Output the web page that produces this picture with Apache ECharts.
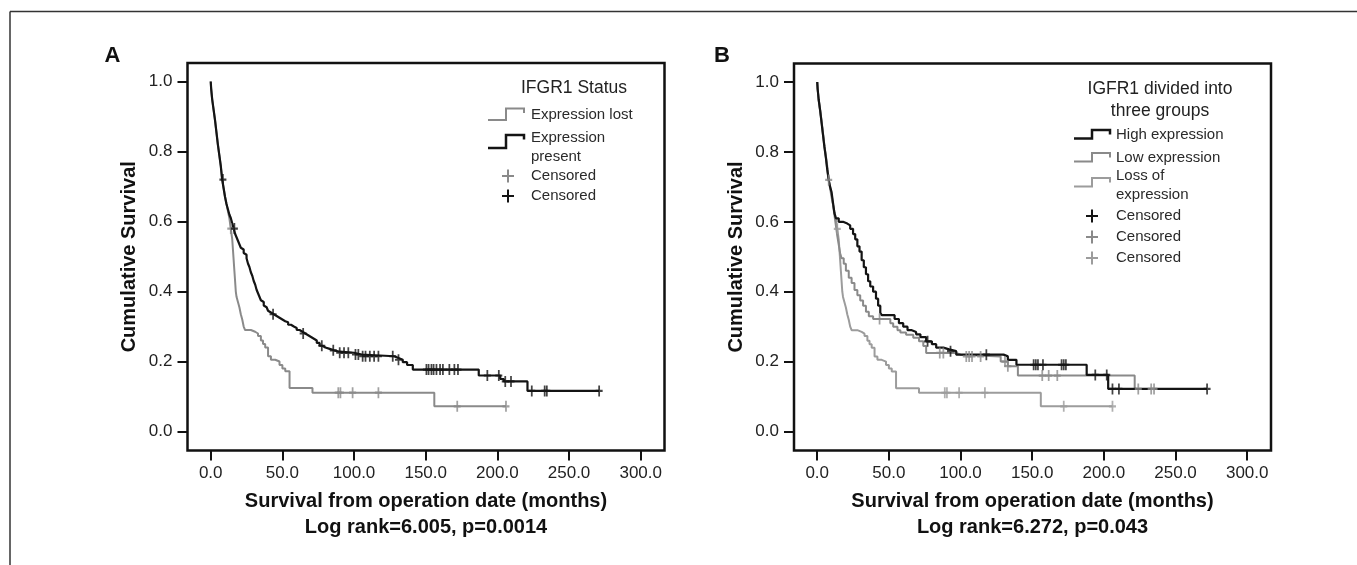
<!DOCTYPE html>
<html><head><meta charset="utf-8">
<script src="https://cdn.jsdelivr.net/npm/echarts@6/dist/echarts.min.js"></script>
<style>html,body{margin:0;padding:0;background:#fff}#c{width:1357px;height:565px}</style>
</head><body><div id="c"></div>
<script>
// ---------- tick values ----------
const xTicks = [0, 50, 100, 150, 200, 250, 300];
const yTicks = [0, 0.2, 0.4, 0.6, 0.8, 1.0];

// ---------- Panel A : IFGR1 Status ----------
// [months, cumulative survival] step points (value after the drop)
const presentCurve = [[0,1.0],[0.3,0.98],[1,0.95],[2,0.92],[3,0.89],[4,0.855],[5,0.82],[6,0.79],[7,0.76],[8,0.72],[9,0.695],[10,0.67],[11,0.65],[12,0.635],[13,0.62],[14,0.61],[15,0.595],[16,0.58],[17,0.565],[18,0.555],[19,0.545],[20,0.535],[21,0.525],[22,0.52],[23,0.51],[24,0.505],[25,0.495],[26,0.48],[27,0.47],[28,0.455],[29,0.445],[30,0.43],[31,0.42],[32,0.405],[33,0.395],[34,0.385],[35,0.375],[36,0.37],[37,0.36],[38,0.355],[39,0.35],[40,0.345],[41,0.34],[42,0.335],[44,0.33],[46,0.325],[48,0.32],[50,0.315],[52,0.312],[54,0.305],[56,0.3],[58,0.296],[60,0.29],[62,0.285],[64,0.28],[66,0.275],[68,0.27],[70,0.265],[72,0.26],[74,0.253],[76,0.245],[78,0.24],[80,0.236],[83,0.232],[86,0.228],[90,0.225],[100,0.22],[105,0.215],[128,0.21],[131,0.205],[134,0.198],[137,0.19],[141,0.177],[187,0.16],[202,0.15],[204.5,0.143],[221,0.116],[271,0.116]];
const presentCensor = [8.5,16.5,43.5,64.5,77.5,85.5,90,93,96,101,103,106,108,111,114,117,127,131,150.5,152,154,155.5,157.5,160,162,166.5,170,172.5,193,201,205.5,209.5,224,233,234.5,271];

// Expression lost (the same curve is "Loss of expression" in panel B)
const lostCurve = [[0,1.0],[0.3,0.98],[1,0.95],[2,0.92],[3,0.89],[4,0.855],[5,0.82],[6,0.79],[7,0.76],[8,0.72],[9,0.695],[10,0.67],[11,0.65],[12,0.63],[13,0.61],[14,0.58],[15,0.55],[15.5,0.52],[16,0.49],[16.5,0.46],[17,0.43],[17.5,0.40],[18,0.385],[19,0.37],[20,0.355],[21,0.335],[22,0.32],[23,0.30],[24,0.29],[28,0.285],[31,0.28],[33,0.273],[35,0.26],[36.5,0.25],[38,0.24],[40,0.215],[42,0.205],[45,0.2],[48,0.19],[50,0.18],[52,0.172],[55,0.124],[71,0.111],[156,0.072],[206,0.072]];
const lostCensor = [14,89,90.5,99,117,172,206];

// ---------- Panel B : IGFR1 divided into three groups ----------
const highCurve = [[0,1],[0.3,0.98],[1,0.95],[2,0.92],[3,0.885],[4,0.85],[5,0.815],[6,0.785],[7,0.75],[8,0.72],[9,0.70],[10,0.685],[11,0.655],[12,0.625],[13,0.61],[15,0.60],[18,0.595],[21,0.59],[23,0.58],[25,0.565],[26.5,0.55],[28,0.53],[29.5,0.515],[31,0.49],[32.5,0.47],[34,0.45],[35.5,0.43],[37,0.415],[39,0.40],[41,0.38],[42.5,0.36],[44,0.34],[45,0.333],[54,0.322],[57,0.31],[60,0.30],[63,0.29],[66,0.285],[69,0.278],[72,0.27],[76,0.258],[80,0.25],[83,0.24],[88,0.235],[92,0.23],[97,0.22],[130,0.215],[133,0.205],[139,0.191],[188,0.162],[203,0.122],[272,0.122]];
const highCensor = [77,93,118,151,152.5,154,157.5,170.5,172,173.5,194,202,206,210.5,272];

const lowCurve = [[0,1],[0.3,0.98],[1,0.95],[2,0.92],[3,0.885],[4,0.85],[5,0.815],[6,0.785],[7,0.75],[8,0.72],[9,0.70],[10,0.68],[11,0.65],[12,0.62],[13,0.59],[14,0.56],[15,0.535],[16,0.51],[17,0.496],[18.5,0.48],[20,0.46],[22,0.44],[24,0.425],[26,0.405],[28,0.39],[30,0.375],[32,0.36],[34,0.343],[36,0.33],[39,0.322],[51,0.31],[53,0.30],[56,0.29],[58,0.283],[62,0.277],[67,0.268],[71,0.258],[74,0.245],[76,0.225],[97,0.22],[100,0.215],[128,0.2],[133,0.187],[140,0.16],[221.5,0.122],[235,0.122]];
const lowCensor = [8,43.5,85.5,88,104,106,108,114,131,133,157,161.5,167.5,224,233,235];

// ---------- text ----------
const xTitle = 'Survival from operation date (months)';
const yTitle = 'Cumulative Survival';
const statA = 'Log rank=6.005, p=0.0014';
const statB = 'Log rank=6.272, p=0.043';

// ---------- helpers ----------
const FONT = "'Liberation Sans', Arial, Helvetica, sans-serif";
const BLACK = '#141414', GREY = '#8a8a8a', GREY2 = '#9c9c9c';
const PLUS = 'path://M3,0L5,0L5,4L8,4L8,6L5,6L5,10L3,10L3,6L0,6L0,4L3,4Z';
// axis ranges extend past the outer ticks so the frame sits outside them
const X_MIN = -16.2, X_MAX = 316.6, Y_MIN = -0.0543, Y_MAX = 1.053;

function stepAt(curve, t) {
  let v = curve[0][1];
  for (const p of curve) { if (p[0] <= t) v = p[1]; else break; }
  return v;
}
function censorPts(curve, times) { return times.map(t => [t, stepAt(curve, t)]); }

function xAxisFor(idx, stat) {
  return {
    gridIndex: idx, type: 'value', min: X_MIN, max: X_MAX, position: 'bottom',
    axisLine: { show: false, onZero: false },
    axisTick: { show: true, inside: false, length: 10, customValues: xTicks, lineStyle: { color: '#111', width: 2 } },
    splitLine: { show: false },
    axisLabel: { customValues: xTicks, margin: 14, fontSize: 17, color: '#222', fontFamily: FONT, formatter: v => Number(v).toFixed(1) },
    name: xTitle + '\n' + stat, nameLocation: 'middle', nameGap: 38,
    nameTextStyle: { fontSize: 20, fontWeight: 'bold', color: '#111', fontFamily: FONT, lineHeight: 26 }
  };
}
function yAxisFor(idx) {
  return {
    gridIndex: idx, type: 'value', min: Y_MIN, max: Y_MAX, position: 'left',
    axisLine: { show: false, onZero: false },
    axisTick: { show: true, inside: false, length: 10, customValues: yTicks, lineStyle: { color: '#111', width: 2 } },
    splitLine: { show: false },
    axisLabel: { customValues: yTicks, margin: 15, fontSize: 17, color: '#222', fontFamily: FONT, formatter: v => Number(v).toFixed(1) },
    name: yTitle, nameLocation: 'middle', nameGap: 48, nameRotate: 90,
    nameTextStyle: { fontSize: 20, fontWeight: 'bold', color: '#111', fontFamily: FONT }
  };
}
function kmLine(name, curve, color, width, ax) {
  return { name, type: 'line', step: 'end', data: curve, xAxisIndex: ax, yAxisIndex: ax,
    showSymbol: false, symbol: 'none', lineStyle: { color, width }, itemStyle: { color }, z: 3, silent: true };
}
function censor(name, curve, times, color, ax) {
  return { name, type: 'scatter', data: censorPts(curve, times), xAxisIndex: ax, yAxisIndex: ax,
    symbol: PLUS, symbolSize: [7, 11], itemStyle: { color }, z: 4, silent: true };
}

// legend drawing helpers (graphic)
function stepIcon(x0, yLow, yTop, color, w) {
  return { type: 'polyline', silent: true,
    shape: { points: [[x0, yLow], [x0 + 18, yLow], [x0 + 18, yTop], [x0 + 36, yTop], [x0 + 36, yTop + 4.5]] },
    style: { stroke: color, lineWidth: w, fill: null } };
}
function plusIcon(cx, cy, color) {
  return { type: 'group', silent: true, children: [
    { type: 'line', shape: { x1: cx - 6, y1: cy, x2: cx + 6, y2: cy }, style: { stroke: color, lineWidth: 2 } },
    { type: 'line', shape: { x1: cx, y1: cy - 6.5, x2: cx, y2: cy + 6.5 }, style: { stroke: color, lineWidth: 2 } }
  ] };
}
function legText(x, y, str, top) {
  return { type: 'text', x, y, silent: true,
    style: { text: str, font: '15px ' + FONT, fill: '#2a2a2a', verticalAlign: top ? 'top' : 'middle', lineHeight: 19 } };
}

const option = {
  animation: false,
  backgroundColor: '#fff',
  grid: [
    { left: 187.5, top: 63, width: 477, height: 387.5, show: true, borderColor: '#111', borderWidth: 2.5, backgroundColor: 'transparent' },
    { left: 794, top: 63.5, width: 477, height: 387, show: true, borderColor: '#111', borderWidth: 2.5, backgroundColor: 'transparent' }
  ],
  xAxis: [xAxisFor(0, statA), xAxisFor(1, statB)],
  yAxis: [yAxisFor(0), yAxisFor(1)],
  series: [
    kmLine('Expression lost', lostCurve, GREY, 2, 0),
    kmLine('Expression present', presentCurve, BLACK, 2.2, 0),
    censor('Censored (lost)', lostCurve, lostCensor, GREY, 0),
    censor('Censored (present)', presentCurve, presentCensor, BLACK, 0),
    kmLine('Loss of expression', lostCurve, GREY2, 2, 1),
    kmLine('Low expression', lowCurve, GREY, 2, 1),
    kmLine('High expression', highCurve, BLACK, 2.2, 1),
    censor('Censored (loss)', lostCurve, lostCensor, GREY2, 1),
    censor('Censored (low)', lowCurve, lowCensor, GREY, 1),
    censor('Censored (high)', highCurve, highCensor, BLACK, 1)
  ],
  graphic: [
    { type: 'line', silent: true, shape: { x1: 10, y1: 11.5, x2: 1357, y2: 11.5 }, style: { stroke: '#333', lineWidth: 1.5 } },
    { type: 'line', silent: true, shape: { x1: 10, y1: 11.5, x2: 10, y2: 565 }, style: { stroke: '#333', lineWidth: 1.5 } },
    { type: 'text', x: 112.5, y: 56, silent: true, style: { text: 'A', font: 'bold 22px ' + FONT, fill: '#111', align: 'center', verticalAlign: 'middle' } },
    { type: 'text', x: 722, y: 56, silent: true, style: { text: 'B', font: 'bold 22px ' + FONT, fill: '#111', align: 'center', verticalAlign: 'middle' } },
    // legend A
    { type: 'text', x: 574, y: 88, silent: true, style: { text: 'IFGR1 Status', font: '17.5px ' + FONT, fill: '#222', align: 'center', verticalAlign: 'middle' } },
    stepIcon(488, 120, 108.5, GREY, 2),
    legText(531, 115, 'Expression lost'),
    stepIcon(488, 148, 135, BLACK, 2.5),
    legText(531, 128.5, 'Expression\npresent', true),
    plusIcon(508, 176, GREY),
    legText(531, 176, 'Censored'),
    plusIcon(508, 196, BLACK),
    legText(531, 196, 'Censored'),
    // legend B
    { type: 'text', x: 1160, y: 78, silent: true, style: { text: 'IGFR1 divided into\nthree groups', font: '17.5px ' + FONT, fill: '#222', align: 'center', verticalAlign: 'top', lineHeight: 22 } },
    stepIcon(1074, 138.5, 130, BLACK, 2.5),
    legText(1116, 135, 'High expression'),
    stepIcon(1074, 161.5, 153, GREY, 2),
    legText(1116, 157.5, 'Low expression'),
    stepIcon(1074, 186.5, 178, GREY2, 2),
    legText(1116, 166.5, 'Loss of\nexpression', true),
    plusIcon(1092, 216, BLACK),
    legText(1116, 216, 'Censored'),
    plusIcon(1092, 237, GREY),
    legText(1116, 237, 'Censored'),
    plusIcon(1092, 258, GREY2),
    legText(1116, 258, 'Censored')
  ]
};

const chart = echarts.init(document.getElementById('c'), null, { renderer: 'canvas' });
chart.setOption(option);
</script>
</body></html>
